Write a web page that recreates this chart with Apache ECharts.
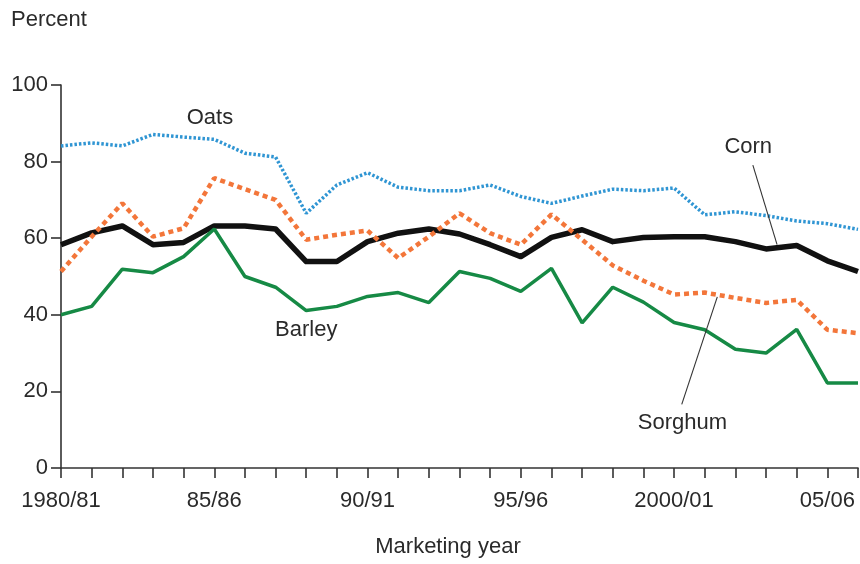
<!DOCTYPE html>
<html>
<head>
<meta charset="utf-8">
<script src="https://cdn.jsdelivr.net/npm/echarts@6/dist/echarts.min.js"></script>
<style>
html,body{margin:0;padding:0;background:#fff;}
#c{width:860px;height:564px;}
</style>
</head>
<body>
<div id="c"></div>
<script>
const years = ['1980/81','81/82','82/83','83/84','84/85','85/86','86/87','87/88','88/89','89/90','90/91','91/92','92/93','93/94','94/95','95/96','96/97','97/98','98/99','99/00','2000/01','01/02','02/03','03/04','04/05','05/06','06/07'];
const tickLabelIdx = [0,5,10,15,20,25];
const corn    = [58.3,61.4,63.2,58.3,58.9,63.2,63.2,62.4,53.9,53.9,59.1,61.3,62.4,61.1,58.3,55.2,60.2,62.2,59.1,60.2,60.4,60.4,59.1,57.2,58.1,54.1,51.3];
const oats    = [84.1,84.9,84.1,87.1,86.4,85.8,82.2,81.2,66.5,73.9,77.1,73.3,72.4,72.4,73.9,70.9,69.1,71.0,72.8,72.4,73.1,66.1,66.9,65.9,64.5,63.8,62.3];
const sorghum = [51.3,60.4,69.1,60.4,62.6,75.7,72.8,70.0,59.6,60.9,62.0,54.8,60.4,66.5,61.3,58.3,66.2,59.6,52.9,48.9,45.3,45.8,44.4,43.1,43.9,36.1,35.2];
const barley  = [40.0,42.2,51.9,51.0,55.2,62.4,50.0,47.2,41.1,42.2,44.8,45.8,43.2,51.3,49.5,46.1,52.1,37.9,47.2,43.3,38.0,36.1,31.0,30.0,36.2,22.2,22.2];
const seriesNames = ['Corn','Oats','Sorghum','Barley'];

const FONT = "'Liberation Sans', Arial, Helvetica, sans-serif";
const TXT = '#2a2a2a';
const chart = echarts.init(document.getElementById('c'), null, {renderer:'canvas'});

chart.setOption({
  animation:false,
  backgroundColor:'#ffffff',
  grid:{left:61, right:2, top:85, bottom:96, containLabel:false},
  xAxis:{
    type:'category', data:years, boundaryGap:false,
    axisLine:{lineStyle:{color:'#333', width:1.6}},
    axisTick:{show:true, interval:0, length:10, lineStyle:{color:'#333', width:1.6}},
    axisLabel:{
      interval:function(i){return tickLabelIdx.indexOf(i)>=0;},
      color:TXT, fontSize:22, fontFamily:FONT, margin:22,
      formatter:function(v){return v;}
    },
    splitLine:{show:false}
  },
  yAxis:{
    type:'value', min:0, max:100, interval:20,
    axisLine:{show:true, lineStyle:{color:'#333', width:1.6}},
    axisTick:{show:true, length:10, lineStyle:{color:'#333', width:1.6}},
    axisLabel:{color:TXT, fontSize:22, fontFamily:FONT, margin:13},
    splitLine:{show:false}
  },
  series:[
    {name:seriesNames[0], type:'line', data:corn, symbol:'none', z:3,
     lineStyle:{color:'#111', width:5.5, join:'round'}},
    {name:seriesNames[3], type:'line', data:barley, symbol:'none', z:4,
     lineStyle:{color:'#168a45', width:3.5}},
    {name:seriesNames[2], type:'line', data:sorghum, symbol:'none', z:5,
     lineStyle:{color:'#f3763a', width:4.5, type:[5,4]}},
    {name:seriesNames[1], type:'line', data:oats, symbol:'none', z:6,
     lineStyle:{color:'#2f95d3', width:3.5, type:[2.5,2]}}
  ]
});

function P(xi, v){
  const i0 = Math.floor(xi), i1 = Math.min(i0+1, years.length-1);
  const a = chart.convertToPixel({gridIndex:0}, [i0, v]);
  const b = chart.convertToPixel({gridIndex:0}, [i1, v]);
  return [a[0] + (xi-i0)*(b[0]-a[0]), a[1]];
}
function label(text, xi, v){
  const p = P(xi, v);
  return {type:'text', x:p[0], y:p[1], style:{text:text, fill:TXT, font:'22px '+FONT, textAlign:'center', textVerticalAlign:'middle'}};
}
function leader(x1,v1,x2,v2){
  const a = P(x1,v1), b = P(x2,v2);
  return {type:'line', shape:{x1:a[0],y1:a[1],x2:b[0],y2:b[1]}, style:{stroke:'#333', lineWidth:1.1}, z:10};
}
chart.setOption({
  graphic:[
    {type:'text', left:11, top:9, style:{text:'Percent', fill:TXT, font:'22px '+FONT}},
    {type:'text', x:448, y:547, style:{text:'Marketing year', fill:TXT, font:'22px '+FONT, textAlign:'center', textVerticalAlign:'middle'}},
    label('Oats', 4.86, 91.4),
    label('Corn', 22.42, 83.8),
    label('Barley', 8.0, 36.1),
    label('Sorghum', 20.27, 11.8),
    leader(22.57, 79.1, 23.36, 58.3),
    leader(21.41, 44.7, 20.25, 16.6)
  ]
});
</script>
</body>
</html>
